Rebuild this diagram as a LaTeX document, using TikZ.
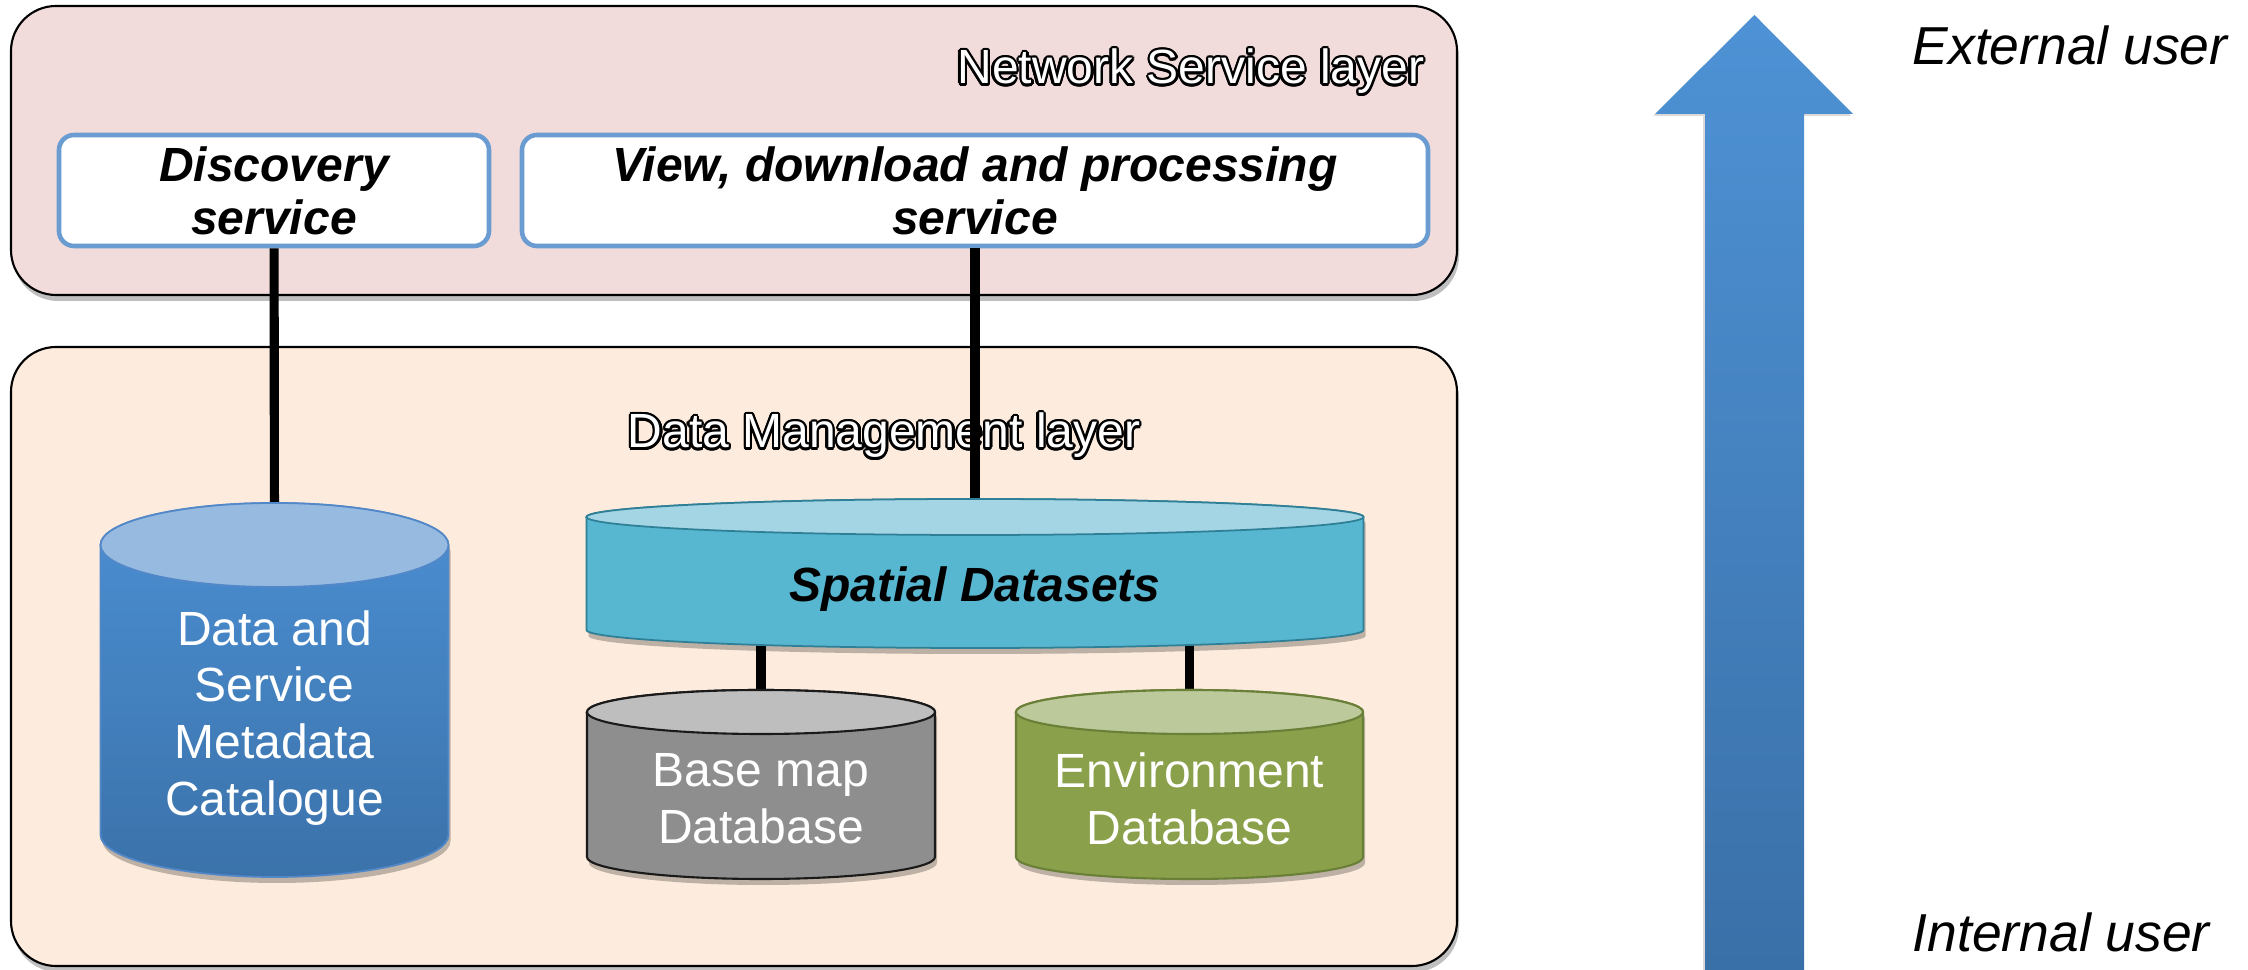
\documentclass[tikz,border=0pt]{standalone}
\usepackage{fontspec}
\setmainfont{Liberation Sans}
\usepackage{contour}
\contourlength{0.7pt}
\usetikzlibrary{shadows}

\definecolor{nslayer}{HTML}{F2DCDB}
\definecolor{dmlayer}{HTML}{FDEBDD}
\definecolor{svcborder}{HTML}{6A9BD1}
\definecolor{metatop}{HTML}{97BAE1}
\definecolor{metahigh}{HTML}{4B8FD3}
\definecolor{metalow}{HTML}{3B72AA}
\definecolor{metaedge}{HTML}{5288C8}
\definecolor{spattop}{HTML}{A3D5E4}
\definecolor{spatbody}{HTML}{57B6D0}
\definecolor{spatedge}{HTML}{2F7F96}
\definecolor{basetop}{HTML}{BEBEBE}
\definecolor{basebody}{HTML}{8E8E8E}
\definecolor{baseedge}{HTML}{1A1A1A}
\definecolor{envtop}{HTML}{BCC99B}
\definecolor{envbody}{HTML}{8AA04A}
\definecolor{envedge}{HTML}{6A7F38}
\definecolor{arrowhigh}{HTML}{4E92D5}
\definecolor{arrowlow}{HTML}{3A70A8}

\begin{document}
\begin{tikzpicture}[
    softshadow/.style={drop shadow={shadow xshift=0.02cm, shadow yshift=-0.06cm, opacity=0.25, fill=black}},
    layerbox/.style={draw=black, line width=0.6pt, rounded corners=0.45cm, softshadow},
    layertitle/.style={text=white, font=\fontsize{13.66pt}{15pt}\selectfont, inner sep=0pt},
    svcbox/.style={draw=svcborder, line width=1.3pt, fill=white, rounded corners=0.15cm,
        minimum height=1.11cm, align=center, inner sep=0pt,
        font=\fontsize{13.66pt}{15.1pt}\selectfont\bfseries\itshape},
    dbtext/.style={text=white, align=center, inner sep=0pt,
        font=\fontsize{13.66pt}{16.2pt}\selectfont},
    usertext/.style={inner sep=0pt, font=\fontsize{15.2pt}{17pt}\selectfont\itshape},
    link/.style={line width=2.6pt, black}
]

    % Fix the page to the size of the reference
    \useasboundingbox (0,0) rectangle (22.48,9.70);

    % The two layers
    \path[layerbox, fill=nslayer] (0.11,6.75) rectangle (14.57,9.64);
    \path[layerbox, fill=dmlayer] (0.11,0.04) rectangle (14.57,6.23);

    % Layer titles (white letters with a black outline)
    \node[layertitle, anchor=base east] (nstitle) at (14.25,8.86) {\contour{black}{Network Service layer}};
    \node[layertitle, anchor=base] (dmtitle) at (8.84,5.22) {\contour{black}{Data Management layer}};

    % Services in the network layer
    \node[svcbox, minimum width=4.30cm] (disc) at (2.74,7.795) {Discovery\\service};
    \node[svcbox, minimum width=9.06cm] (view) at (9.75,7.795) {View, download and processing\\service};

    % Axis points of the cylinders
    \coordinate (meta-top) at (2.745,4.25);
    \coordinate (spat-top) at (9.75,4.53);
    \coordinate (spat-bot) at (9.75,3.40);
    \coordinate (base-top) at (7.61,2.58);
    \coordinate (env-top) at (11.895,2.58);

    % Connectors (drawn first, the cylinders cover their ends)
    \draw[link] (disc) -- (meta-top);
    \draw[link] (view) -- (spat-top);
    \draw[link] (spat-bot -| base-top) -- (base-top);
    \draw[link] (spat-bot -| env-top) -- (env-top);

    % Metadata catalogue cylinder
    \shade[top color=metahigh, bottom color=metalow, draw=metaedge, line width=0.5pt, softshadow]
        (1.005,4.25) -- (1.005,1.35) arc[start angle=180, end angle=360, x radius=1.74cm, y radius=0.42cm]
        -- (4.485,4.25) arc[start angle=0, end angle=180, x radius=1.74cm, y radius=0.42cm] -- cycle;
    \draw[fill=metatop, draw=metaedge, line width=0.5pt] (meta-top) ellipse[x radius=1.74cm, y radius=0.42cm];
    \node[dbtext] (meta) at (2.745,2.52) {Data and\\Service\\Metadata\\Catalogue};

    % Spatial datasets cylinder
    \draw[fill=spatbody, draw=spatedge, line width=0.5pt, softshadow]
        (5.865,4.53) -- (5.865,3.40) arc[start angle=180, end angle=360, x radius=3.885cm, y radius=0.18cm]
        -- (13.635,4.53) arc[start angle=0, end angle=180, x radius=3.885cm, y radius=0.18cm] -- cycle;
    \draw[fill=spattop, draw=spatedge, line width=0.5pt] (spat-top) ellipse[x radius=3.885cm, y radius=0.18cm];
    \node[inner sep=0pt, font=\fontsize{13.66pt}{15pt}\selectfont\bfseries\itshape] (spatial) at (9.75,3.81) {Spatial Datasets};

    % Base map cylinder
    \draw[fill=basebody, draw=baseedge, line width=0.6pt, softshadow]
        (5.87,2.58) -- (5.87,1.13) arc[start angle=180, end angle=360, x radius=1.74cm, y radius=0.22cm]
        -- (9.35,2.58) arc[start angle=0, end angle=180, x radius=1.74cm, y radius=0.22cm] -- cycle;
    \draw[fill=basetop, draw=baseedge, line width=0.6pt] (base-top) ellipse[x radius=1.74cm, y radius=0.22cm];
    \node[dbtext] (basemap) at (7.61,1.71) {Base map\\Database};

    % Environment cylinder
    \draw[fill=envbody, draw=envedge, line width=0.6pt, softshadow]
        (10.16,2.58) -- (10.16,1.13) arc[start angle=180, end angle=360, x radius=1.735cm, y radius=0.22cm]
        -- (13.63,2.58) arc[start angle=0, end angle=180, x radius=1.735cm, y radius=0.22cm] -- cycle;
    \draw[fill=envtop, draw=envedge, line width=0.6pt] (env-top) ellipse[x radius=1.735cm, y radius=0.22cm];
    \node[dbtext] (envdb) at (11.895,1.71) {Environment\\Database};

    % Big arrow from internal to external user
    \shade[top color=arrowhigh, bottom color=arrowlow, drop shadow={shadow xshift=-0.02cm, shadow yshift=-0.02cm, opacity=0.15, fill=black}]
        (17.05,0) -- (17.05,8.56) -- (16.55,8.56) -- (17.545,9.55)
        -- (18.53,8.56) -- (18.04,8.56) -- (18.04,0) -- cycle;

    % User labels
    \node[usertext, anchor=base west] (ext) at (19.12,9.05) {External user};
    \node[usertext, anchor=base west] (int) at (19.12,0.18) {Internal user};

\end{tikzpicture}
\end{document}
